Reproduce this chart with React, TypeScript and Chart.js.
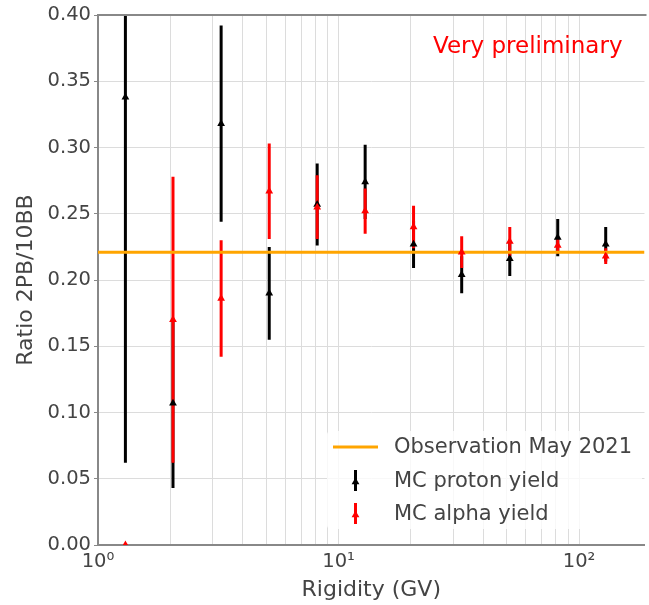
import React, { useEffect, useRef } from 'react';
import { Chart, registerables } from 'chart.js';

Chart.register(...registerables);

// ---- data ----
const rigidity = [1.3, 2.05, 3.25, 5.15, 8.15, 12.9, 20.5, 32.5, 51.5, 81.5, 129];
const protonRatio = [0.338, 0.107, 0.318, 0.19, 0.257, 0.274, 0.227, 0.204, 0.216, 0.232, 0.227];
const protonErr = [0.276, 0.064, 0.074, 0.035, 0.031, 0.028, 0.018, 0.014, 0.013, 0.014, 0.013];
const alphaRatio = [0.0, 0.17, 0.186, 0.267, 0.255, 0.252, 0.24, 0.221, 0.229, 0.226, 0.218];
const alphaErr = [0.0, 0.108, 0.044, 0.036, 0.024, 0.017, 0.016, 0.012, 0.011, 0.006, 0.006];
const observationRatio = 0.221;

const seriesLabels = ['Observation May 2021', 'MC proton yield', 'MC alpha yield'];
const xMin = 1;
const xMax = 187;
const yMin = 0;
const yMax = 0.4;
const yTickValues = [0, 0.05, 0.1, 0.15, 0.2, 0.25, 0.3, 0.35, 0.4];
const xGridValues = [1, 2, 3, 4, 5, 6, 7, 8, 9, 10, 20, 30, 40, 50, 60, 70, 80, 90, 100];
const xTickLabels: Record<string, string> = { '1': '10⁰', '10': '10¹', '100': '10²' };
const annotationText = 'Very preliminary';
const xTitle = 'Rigidity (GV)';
const yTitle = 'Ratio 2PB/10BB';

const FONT = '"DejaVu Sans", sans-serif';
const TEXT = '#444444';
const GRID = '#dcdcdc';
const SPINE = '#888888';

const errorBarPlugin = {
  id: 'errorBars',
  beforeDatasetsDraw(chart: any) {
    const { ctx, chartArea: a, scales } = chart;
    const x = scales.x;
    const y = scales.y;
    ctx.save();
    ctx.beginPath();
    ctx.rect(a.left, a.top, a.right - a.left, a.bottom - a.top);
    ctx.clip();
    chart.data.datasets.forEach((ds: any) => {
      if (!ds.errors) return;
      ctx.strokeStyle = ds.errorColor;
      ctx.lineWidth = 3;
      ds.data.forEach((p: any, j: number) => {
        const e = ds.errors[j];
        if (!e) return;
        const px = x.getPixelForValue(p.x);
        ctx.beginPath();
        ctx.moveTo(px, y.getPixelForValue(p.y - e));
        ctx.lineTo(px, y.getPixelForValue(p.y + e));
        ctx.stroke();
      });
    });
    ctx.restore();
  },
  afterDatasetsDraw(chart: any) {
    const { ctx, chartArea: a } = chart;
    ctx.save();
    ctx.strokeStyle = SPINE;
    ctx.lineWidth = 2;
    ctx.beginPath();
    ctx.moveTo(a.left - 1, a.top);
    ctx.lineTo(a.right + 2, a.top);
    ctx.stroke();
    ctx.restore();
  },
};

const drawTriangle = (ctx: CanvasRenderingContext2D, x: number, y: number, r: number) => {
  ctx.beginPath();
  for (let k = 0; k < 3; k++) {
    const ang = (k * 2 * Math.PI) / 3;
    const px = x + Math.sin(ang) * r;
    const py = y - Math.cos(ang) * r;
    if (k === 0) ctx.moveTo(px, py);
    else ctx.lineTo(px, py);
  }
  ctx.closePath();
  ctx.fill();
};

const legendPlugin = {
  id: 'customLegend',
  afterDraw(chart: any) {
    const ctx: CanvasRenderingContext2D = chart.ctx;
    const ds = chart.data.datasets;
    ctx.save();
    // annotation
    ctx.fillStyle = '#ff0000';
    ctx.font = `23px ${FONT}`;
    ctx.textAlign = 'left';
    ctx.textBaseline = 'alphabetic';
    ctx.fillText(annotationText, 433, 53);

    // legend box
    ctx.fillStyle = 'rgba(255,255,255,0.8)';
    ctx.beginPath();
    (ctx as any).roundRect(327, 431, 315, 98, 4);
    ctx.fill();

    const rows = [447, 481, 514];
    // line sample
    ctx.strokeStyle = ds[0].borderColor;
    ctx.lineWidth = 3;
    ctx.beginPath();
    ctx.moveTo(333, rows[0]);
    ctx.lineTo(378, rows[0]);
    ctx.stroke();
    // errorbar samples
    [1, 2].forEach((i) => {
      const cy = rows[i];
      ctx.strokeStyle = ds[i].errorColor;
      ctx.fillStyle = ds[i].backgroundColor;
      ctx.lineWidth = 3;
      ctx.beginPath();
      ctx.moveTo(355.5, cy - 11);
      ctx.lineTo(355.5, cy + 10);
      ctx.stroke();
      drawTriangle(ctx, 355.5, cy + 1, 4.5);
    });
    ctx.fillStyle = TEXT;
    ctx.font = `21px ${FONT}`;
    ctx.textBaseline = 'middle';
    rows.forEach((cy, i) => {
      ctx.fillText(ds[i].label, 394, cy + 1);
    });
    ctx.restore();
  },
};

export default function App() {
  const ref = useRef<HTMLCanvasElement | null>(null);

  useEffect(() => {
    if (!ref.current) return;
    const proton = rigidity.map((x, i) => ({ x, y: protonRatio[i] }));
    const alpha = rigidity.map((x, i) => ({ x, y: alphaRatio[i] }));
    const chart = new Chart(ref.current, {
      type: 'scatter',
      data: {
        datasets: [
          {
            type: 'line',
            label: seriesLabels[0],
            data: [
              { x: xMin, y: observationRatio },
              { x: xMax, y: observationRatio },
            ],
            borderColor: '#ffa500',
            backgroundColor: '#ffa500',
            borderWidth: 3,
            pointRadius: 0,
            order: 3,
          } as any,
          {
            label: seriesLabels[1],
            data: proton,
            pointStyle: 'triangle',
            pointRadius: 4.5,
            borderWidth: 0,
            backgroundColor: '#000000',
            borderColor: '#000000',
            order: 2,
            errors: protonErr,
            errorColor: '#000000',
          } as any,
          {
            label: seriesLabels[2],
            data: alpha,
            pointStyle: 'triangle',
            pointRadius: 4.5,
            borderWidth: 0,
            backgroundColor: '#ff0000',
            borderColor: '#ff0000',
            order: 1,
            errors: alphaErr,
            errorColor: '#ff0000',
          } as any,
        ],
      },
      options: {
        responsive: false,
        animation: false,
        events: [],
        layout: { padding: { top: 15, left: 0, right: 0, bottom: 0 } },
        plugins: {
          legend: { display: false },
          tooltip: { enabled: false },
        },
        scales: {
          x: {
            type: 'logarithmic',
            min: xMin,
            max: xMax,
            afterBuildTicks: (s: any) => {
              s.ticks = xGridValues.map((v) => ({ value: v }));
            },
            afterFit: (s: any) => {
              s.height = 60;
            },
            grid: { color: GRID, lineWidth: 1, drawTicks: false },
            border: { display: true, color: SPINE, width: 2 },
            ticks: {
              autoSkip: false,
              maxRotation: 0,
              padding: 5,
              color: TEXT,
              font: { family: FONT, size: 19.5 },
              callback: (v: any) => xTickLabels[String(v)] ?? '',
            },
            title: {
              display: true,
              text: xTitle,
              color: TEXT,
              font: { family: FONT, size: 22 },
              padding: { top: 0, bottom: 2 },
            },
          },
          y: {
            min: yMin,
            max: yMax,
            afterBuildTicks: (s: any) => {
              s.ticks = yTickValues.map((v) => ({ value: v }));
            },
            afterFit: (s: any) => {
              s.width = 98;
            },
            grid: { color: GRID, lineWidth: 1, drawTicks: true, tickLength: 4, tickColor: SPINE },
            border: { display: true, color: SPINE, width: 2 },
            ticks: {
              padding: 3,
              color: TEXT,
              font: { family: FONT, size: 19.5 },
              callback: (v: any) => Number(v).toFixed(2),
            },
            title: {
              display: true,
              text: yTitle,
              color: TEXT,
              font: { family: FONT, size: 22 },
              padding: { top: 13, bottom: 0 },
            },
          },
        },
      } as any,
      plugins: [errorBarPlugin, legendPlugin],
    });
    return () => chart.destroy();
  }, []);

  return (
    <canvas
      ref={ref}
      width={649}
      height={605}
      style={{ position: 'absolute', left: 0, top: 0, display: 'block', background: '#ffffff' }}
    />
  );
}
